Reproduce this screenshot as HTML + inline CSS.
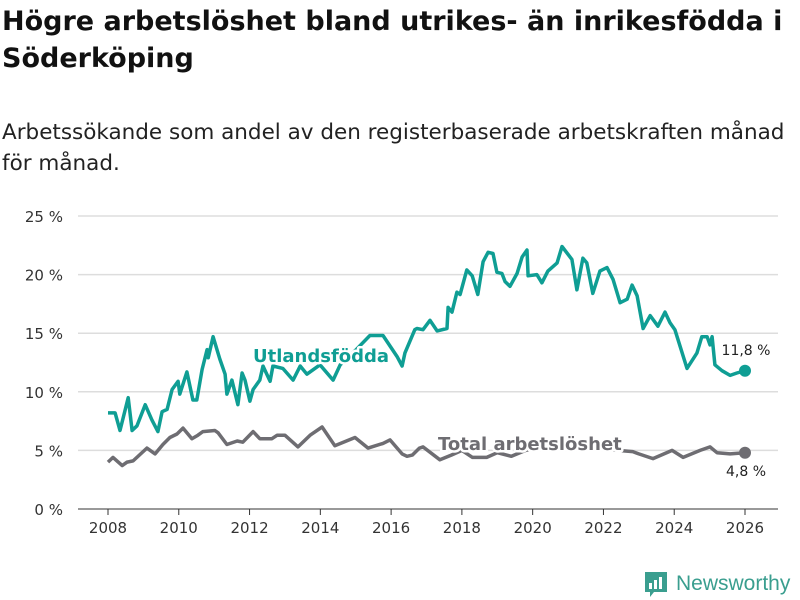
<!DOCTYPE html>
<html><head><meta charset="utf-8">
<style>
body{margin:0;width:800px;height:600px;background:#fff;font-family:"DejaVu Sans","Liberation Sans",sans-serif;overflow:hidden;position:relative}
h1{position:absolute;left:2px;top:3px;margin:0;font-size:27px;line-height:37px;font-weight:bold;color:#111;width:800px;white-space:nowrap}
p.sub{position:absolute;left:2px;top:117px;margin:0;font-size:21.5px;line-height:31px;color:#222;white-space:nowrap}
svg{position:absolute;left:0;top:0}
</style></head><body>
<h1>Högre arbetslöshet bland utrikes- än inrikesfödda i<br>Söderköping</h1>
<p class="sub">Arbetssökande som andel av den registerbaserade arbetskraften månad<br>för månad.</p>
<svg id="chart" width="800" height="600"></svg>
<script>
const xTicks=[2008,2010,2012,2014,2016,2018,2020,2022,2024,2026];
const yTicks=[0,5,10,15,20,25];
const foreignDates=[2008.00,2008.20,2008.34,2008.57,2008.68,2008.82,2009.05,2009.24,2009.41,2009.53,2009.67,2009.81,2009.98,2010.03,2010.23,2010.40,2010.51,2010.66,2010.80,2010.83,2010.97,2011.16,2011.31,2011.36,2011.50,2011.67,2011.79,2011.87,2012.01,2012.10,2012.29,2012.38,2012.58,2012.66,2012.94,2013.23,2013.43,2013.62,2013.99,2014.36,2014.56,2014.98,2015.40,2015.77,2016.17,2016.31,2016.39,2016.67,2016.73,2016.90,2017.10,2017.30,2017.58,2017.61,2017.72,2017.86,2017.95,2018.14,2018.29,2018.45,2018.60,2018.74,2018.88,2018.99,2019.13,2019.22,2019.36,2019.56,2019.70,2019.84,2019.87,2020.12,2020.26,2020.43,2020.69,2020.83,2021.11,2021.25,2021.42,2021.53,2021.70,2021.90,2022.10,2022.27,2022.47,2022.67,2022.81,2022.95,2023.12,2023.32,2023.54,2023.74,2023.88,2024.02,2024.36,2024.64,2024.78,2024.93,2025.01,2025.07,2025.15,2025.35,2025.58,2025.77,2026.00];
const foreignValues=[8.2,8.2,6.7,9.5,6.7,7.1,8.9,7.6,6.6,8.3,8.5,10.2,10.9,9.8,11.7,9.3,9.3,11.9,13.6,12.9,14.7,12.8,11.5,9.8,11.0,8.9,11.6,11.0,9.2,10.2,11.0,12.2,10.9,12.2,12.0,11.0,12.2,11.5,12.3,11.0,12.3,13.5,14.8,14.8,13.0,12.2,13.3,15.3,15.4,15.3,16.1,15.2,15.4,17.2,16.8,18.5,18.3,20.4,19.9,18.3,21.1,21.9,21.8,20.2,20.1,19.4,19.0,20.1,21.5,22.1,19.9,20.0,19.3,20.3,21.0,22.4,21.3,18.7,21.4,21.0,18.4,20.3,20.6,19.6,17.6,17.9,19.1,18.2,15.4,16.5,15.6,16.8,15.9,15.3,12.0,13.3,14.7,14.7,14.0,14.7,12.3,11.8,11.4,11.6,11.8];
const totalDates=[2008.00,2008.14,2008.40,2008.54,2008.71,2009.10,2009.33,2009.55,2009.75,2009.95,2010.12,2010.37,2010.54,2010.68,2011.02,2011.11,2011.36,2011.65,2011.81,2012.10,2012.29,2012.63,2012.78,2013.00,2013.37,2013.71,2014.05,2014.41,2014.98,2015.35,2015.77,2015.97,2016.31,2016.45,2016.60,2016.80,2016.90,2017.38,2017.70,2018.00,2018.30,2018.70,2019.00,2019.40,2019.80,2020.20,2020.60,2021.00,2021.50,2022.00,2022.40,2022.83,2023.00,2023.40,2023.94,2024.25,2024.73,2025.01,2025.21,2025.58,2026.00];
const totalValues=[4.0,4.4,3.7,4.0,4.1,5.2,4.7,5.5,6.1,6.4,6.9,6.0,6.3,6.6,6.7,6.5,5.5,5.8,5.7,6.6,6.0,6.0,6.3,6.3,5.3,6.3,7.0,5.4,6.1,5.2,5.6,5.9,4.7,4.5,4.6,5.2,5.3,4.2,4.6,5.0,4.4,4.4,4.8,4.5,5.0,5.3,5.0,5.4,5.1,5.2,5.0,4.9,4.7,4.3,5.0,4.4,5.0,5.3,4.8,4.7,4.8];

const NS="http://www.w3.org/2000/svg";
const svg=document.getElementById('chart');
const X=y=>108+(y-2008)*(745-108)/18;
const Y=v=>509-v*(509-216)/25;
function mk(t,a,p){const e=document.createElementNS(NS,t);for(const k in a)e.setAttribute(k,a[k]);(p||svg).appendChild(e);return e;}
yTicks.forEach(v=>{
  const l=mk('line',{x1:78,x2:778,y1:Y(v),y2:Y(v),stroke:v===0?'#333':'#ddd','stroke-width':v===0?1:1.5});
  
  
  const t=mk('text',{x:63,y:Y(v)+6,'text-anchor':'end','font-size':15,fill:'#333'});
  t.textContent=v+' %';
  
  
});
xTicks.forEach(yr=>{
  const l=mk('line',{x1:X(yr),x2:X(yr),y1:509,y2:515,stroke:'#333'});
  
  
  const t=mk('text',{x:X(yr),y:533,'text-anchor':'middle','font-size':15,fill:'#333'});
  t.textContent=yr;
  
  
});
function line(d,v,c,name){
  const p=mk('path',{d:d.map((x,i)=>(i?'L':'M')+X(x).toFixed(1)+' '+Y(v[i]).toFixed(1)).join(''),fill:'none',stroke:c,'stroke-width':3.5,'stroke-linejoin':'round'});
  
  
  const c2=mk('circle',{cx:X(d[d.length-1]),cy:Y(v[v.length-1]),r:6,fill:c});
  
  
}
line(totalDates,totalValues,'#6e6d72','total-line');
line(foreignDates,foreignValues,'#0f9e94','foreign-line');
function lbl(x,y,txt,c,name,bold,size,anchor,halo){
  const t=mk('text',{x:x,y:y,'font-size':size,fill:c,'font-weight':bold?'bold':'normal','text-anchor':anchor||'start'});
  if(halo){t.setAttribute('stroke','#fff');t.setAttribute('stroke-width',5);t.setAttribute('paint-order','stroke');t.setAttribute('stroke-linejoin','round');}
  t.textContent=txt;
  
  
}
lbl(253,362,'Utlandsfödda','#0f9e94','foreign-label',true,18,'start',true);
lbl(438,450,'Total arbetslöshet','#6e6d72','total-label',true,18,'start',true);
lbl(746,355,'11,8 %','#222','foreign-end-value',false,14,'middle');
lbl(746,476,'4,8 %','#222','total-end-value',false,14,'middle');
const g=mk('g',{});


mk('path',{d:'M645 572h22v20h-13l-4 5v-5h-5z',fill:'#3a9e8f'},g);
mk('rect',{x:649,y:583,width:3,height:6,fill:'#fff'},g);
mk('rect',{x:654,y:580,width:3,height:9,fill:'#fff'},g);
mk('rect',{x:659,y:577,width:3,height:12,fill:'#fff'},g);
const lt=mk('text',{x:676,y:590,'font-size':21,fill:'#3a9e8f','font-family':'Liberation Sans, sans-serif'},g);
lt.textContent='Newsworthy';
</script>
</body></html>
